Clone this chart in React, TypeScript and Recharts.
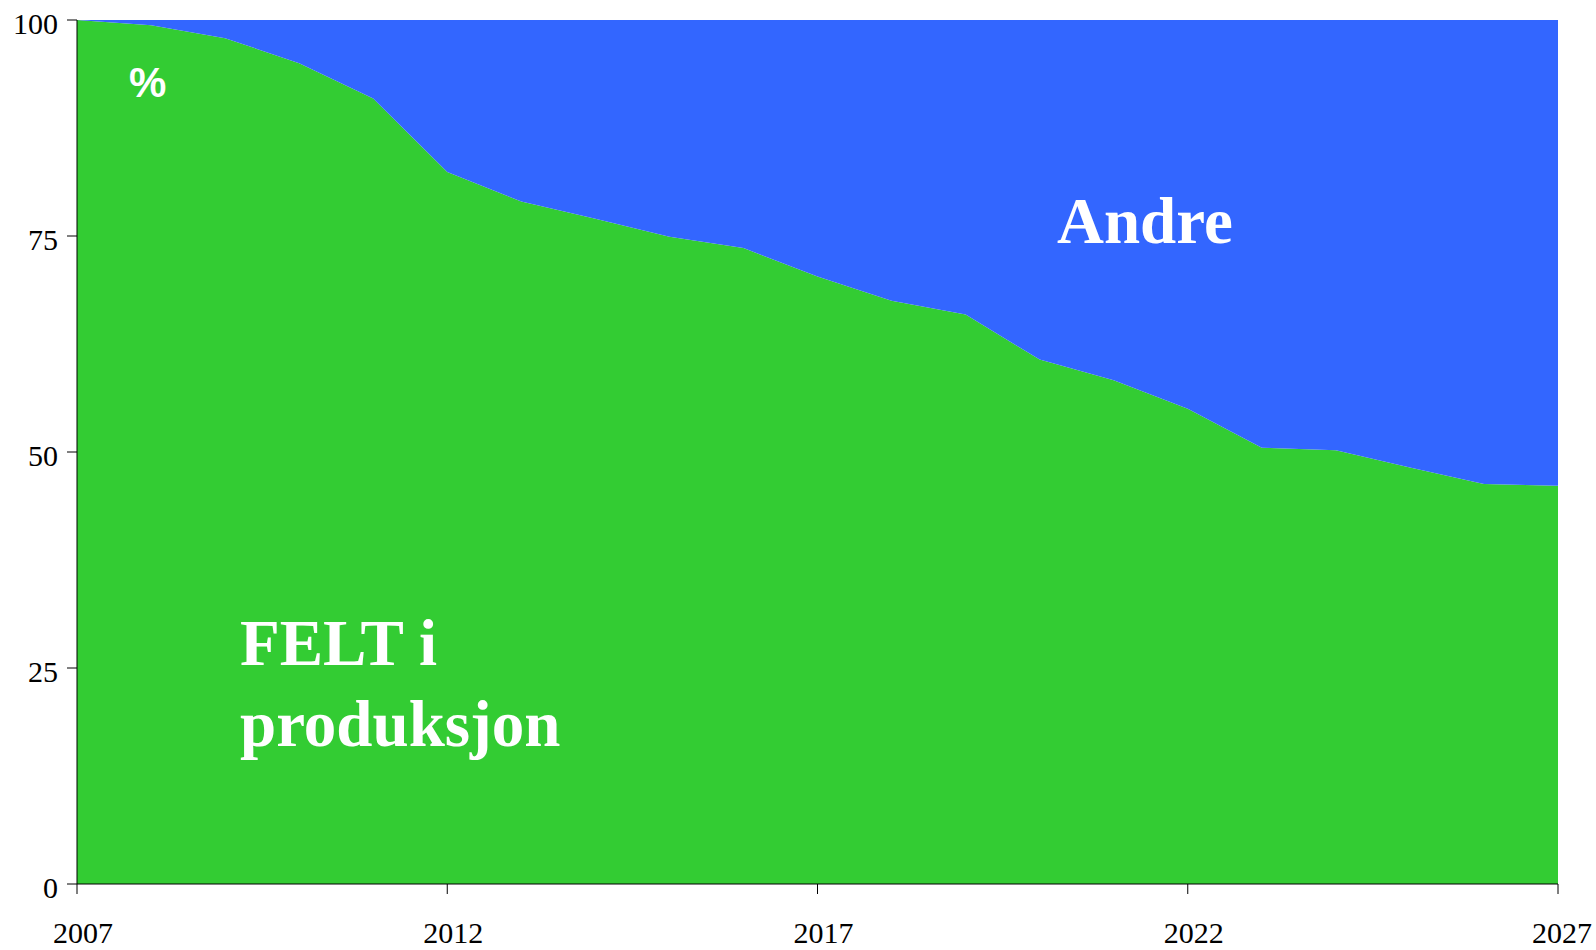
import { AreaChart, Area, XAxis, YAxis } from "recharts";

const years = [
  2007, 2008, 2009, 2010, 2011, 2012, 2013, 2014, 2015, 2016, 2017,
  2018, 2019, 2020, 2021, 2022, 2023, 2024, 2025, 2026, 2027,
];
// share (%) from fields already in production
const felt = [
  100, 99.4, 97.9, 95.0, 90.9, 82.4, 79.0, 77.0, 74.9, 73.6, 70.3,
  67.5, 65.9, 60.7, 58.3, 55.0, 50.5, 50.2, 48.2, 46.3, 46.1,
];
// share (%) from the rest
const andre = [
  0, 0.6, 2.1, 5.0, 9.1, 17.6, 21.0, 23.0, 25.1, 26.4, 29.7,
  32.5, 34.1, 39.3, 41.7, 45.0, 49.5, 49.8, 51.8, 53.7, 53.9,
];
const xTicks = [2007, 2012, 2017, 2022, 2027];
const yTicks = [0, 25, 50, 75, 100];

const data = years.map((year, i) => ({ year, felt: felt[i], andre: andre[i] }));

const serif = "'Liberation Serif', 'Times New Roman', serif";

function XTick({ x, y, payload }: any) {
  const last = payload.value === xTicks[xTicks.length - 1];
  return (
    <text
      x={last ? 1592 : x + 6}
      y={y + 49}
      textAnchor={last ? "end" : "middle"}
      fontFamily={serif}
      fontSize={30}
      fill="#000"
    >
      {payload.value}
    </text>
  );
}

function YTick({ x, y, payload }: any) {
  return (
    <text x={x} y={y + 14} textAnchor="end" fontFamily={serif} fontSize={30} fill="#000">
      {payload.value}
    </text>
  );
}

export default function App() {
  return (
    <div style={{ position: "absolute", left: 0, top: 0, width: 1596, height: 950 }}>
      <AreaChart width={1596} height={950} data={data} margin={{ top: 20, right: 38, bottom: 0, left: 7 }}>
        <XAxis
          dataKey="year"
          type="number"
          domain={[2007, 2027]}
          ticks={xTicks}
          height={66}
          tickSize={10}
          tickMargin={0}
          stroke="#000"
          tick={<XTick />}
        />
        <YAxis
          type="number"
          domain={[0, 100]}
          ticks={yTicks}
          width={70}
          tickSize={10}
          tickMargin={9}
          stroke="#000"
          tick={<YTick />}
        />
        <Area
          type="linear"
          dataKey="felt"
          stackId="1"
          stroke="none"
          fill="#33cc33"
          fillOpacity={1}
          isAnimationActive={false}
        />
        <Area
          type="linear"
          dataKey="andre"
          stackId="1"
          stroke="none"
          fill="#3366ff"
          fillOpacity={1}
          isAnimationActive={false}
        />
      </AreaChart>
      <svg
        width={1596}
        height={950}
        style={{ position: "absolute", left: 0, top: 0, pointerEvents: "none" }}
      >
        <text x={129} y={97} fontFamily="'Liberation Sans', Arial, sans-serif" fontWeight="bold" fontSize={42} fill="#fff">
          %
        </text>
        <text x={1057} y={243} fontFamily={serif} fontWeight="bold" fontSize={65} fill="#fff">
          Andre
        </text>
        <text fontFamily={serif} fontWeight="bold" fontSize={65} fill="#fff">
          <tspan x={240} y={665}>FELT i</tspan>
          <tspan x={240} y={746}>produksjon</tspan>
        </text>
      </svg>
    </div>
  );
}
